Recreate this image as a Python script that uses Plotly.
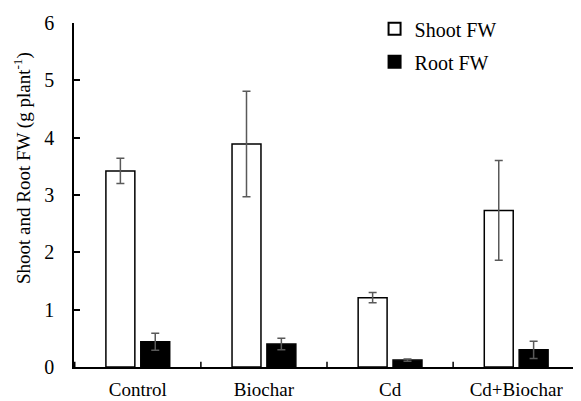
import plotly.graph_objects as go

categories = ["Control", "Biochar", "Cd", "Cd+Biochar"]
shoot_fw = [3.42, 3.89, 1.21, 2.73]
shoot_err = [0.22, 0.92, 0.09, 0.87]
root_fw = [0.44, 0.40, 0.12, 0.30]
root_err = [0.15, 0.10, 0.02, 0.15]
y_ticks = [0, 1, 2, 3, 4, 5, 6]
y_title = "Shoot and Root FW (g plant<sup>-1</sup>)"

FONT = "Liberation Serif"

fig = go.Figure()
fig.add_trace(go.Bar(
    name="Shoot FW", x=categories, y=shoot_fw, legendgroup="a",
    marker=dict(color="white", line=dict(color="black", width=1.5)),
    error_y=dict(type="data", array=shoot_err, color="#595959", thickness=1.5, width=4),
))
fig.add_trace(go.Bar(
    name="Root FW", x=categories, y=root_fw, legendgroup="b",
    marker=dict(color="black", line=dict(color="black", width=1.5)),
    error_y=dict(type="data", array=root_err, color="#595959", thickness=1.5, width=4),
))

fig.update_layout(
    width=573, height=393,
    margin=dict(l=66, r=1, t=15, b=34),
    paper_bgcolor="white", plot_bgcolor="white",
    font=dict(family=FONT, size=19, color="black"),
    barmode="group", bargap=0.447, bargroupgap=0.17,
    showlegend=True,
    legend=dict(x=0.594, y=1.04, xanchor="left", yanchor="top",
                bgcolor="rgba(0,0,0,0)", font=dict(family=FONT, size=20),
                tracegroupgap=4, itemsizing="constant"),
    xaxis=dict(showline=True, linecolor="black", linewidth=1.5, automargin=False,
               ticks="", showgrid=False, ticklabelstandoff=4,
               tickfont=dict(family=FONT, size=19)),
    yaxis=dict(range=[0, 6], tickvals=y_ticks, showline=True, linecolor="black",
               linewidth=1.5, ticks="inside", ticklen=6, tickwidth=1.5,
               tickcolor="black", showgrid=False, zeroline=False, automargin=False,
               ticklabelstandoff=14,
               tickfont=dict(family=FONT, size=20)),
)

fig.add_annotation(text=y_title, xref="paper", yref="paper",
                   x=-0.103, y=0.578, xanchor="center", yanchor="middle",
                   textangle=-90, showarrow=False,
                   font=dict(family=FONT, size=19, color="black"))

# category boundary ticks on x axis (inside, pointing up)
for i in range(len(categories) + 1):
    fig.add_shape(type="line", xref="x", yref="paper",
                  x0=i - 0.5, x1=i - 0.5, y0=0, y1=0.015,
                  line=dict(color="black", width=1.5))

fig.write_html("out.html")
